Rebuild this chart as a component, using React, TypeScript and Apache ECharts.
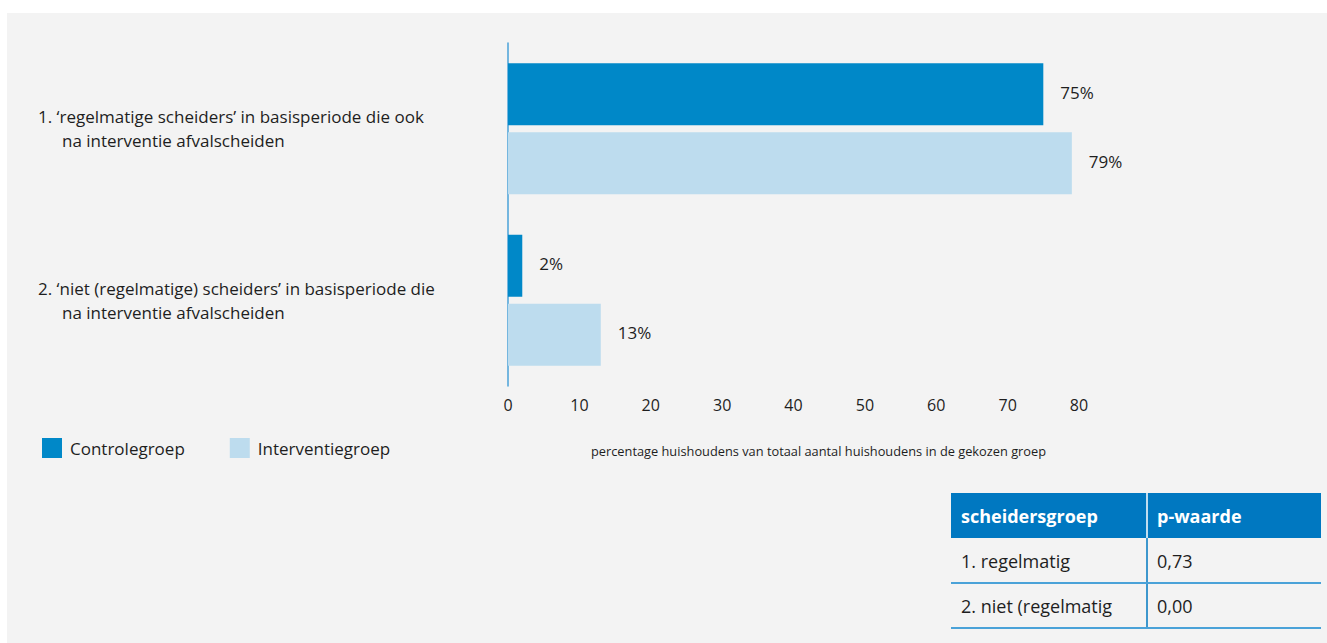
import React, { useEffect, useRef } from "react";
import * as echarts from "echarts";

const categories = [
  "1. ‘regelmatige scheiders’ in basisperiode die ook\nna interventie afvalscheiden",
  "2. ‘niet (regelmatige) scheiders’ in basisperiode die\nna interventie afvalscheiden",
];
const seriesNames = ["Controlegroep", "Interventiegroep"];
const controleValues = [75, 2];
const interventieValues = [79, 13];
const xTicks = [0, 10, 20, 30, 40, 50, 60, 70, 80];
const axisTitle = "percentage huishoudens van totaal aantal huishoudens in de gekozen groep";
const tableHeader = ["scheidersgroep", "p-waarde"];
const tableRows = [
  ["1. regelmatig", "0,73"],
  ["2. niet (regelmatig", "0,00"],
];

const FONT = "Open Sans";
const TEXT = "#1e1e1e";
const DARK = "#0088c8";
const LIGHT = "#bddcee";
const HEAD = "#0078c1";
const LINE = "#4aa2d8";

export default function App() {
  const ref = useRef<HTMLDivElement>(null);
  useEffect(() => {
    if (!ref.current) return;
    const chart = echarts.init(ref.current, null, { renderer: "svg" });

    const tX = 951, tR = 1321, tDiv = 1147, tTop = 493, hH = 45, rH = 45;
    const tableEls: any[] = [];
    tableEls.push({ type: "rect", shape: { x: tX, y: tTop, width: tR - tX, height: hH }, style: { fill: HEAD } });
    tableEls.push({ type: "line", shape: { x1: tDiv, y1: tTop, x2: tDiv, y2: tTop + hH }, style: { stroke: "#ffffff", lineWidth: 1.5 } });
    tableEls.push({ type: "line", shape: { x1: tDiv, y1: tTop + hH, x2: tDiv, y2: tTop + hH + rH * tableRows.length }, style: { stroke: HEAD, lineWidth: 1.5 } });
    const colX = [tX + 10, tDiv + 10];
    tableHeader.forEach((h, i) => {
      tableEls.push({ type: "text", x: colX[i], y: tTop + hH / 2, style: { text: h, fill: "#ffffff", font: `bold 18px "${FONT}"`, verticalAlign: "middle" } });
    });
    tableRows.forEach((row, r) => {
      const yTop = tTop + hH + r * rH;
      row.forEach((cell, i) => {
        tableEls.push({ type: "text", x: colX[i], y: yTop + rH / 2, style: { text: cell, fill: TEXT, font: `18px "${FONT}"`, verticalAlign: "middle" } });
      });
      tableEls.push({ type: "line", shape: { x1: tX, y1: yTop + rH, x2: tR, y2: yTop + rH }, style: { stroke: LINE, lineWidth: 2 } });
    });

    const labelStyle = { show: true, position: "right", distance: 17, formatter: "{c}%", fontSize: 17, color: TEXT, fontFamily: FONT, offset: [0, -2] };

    chart.setOption({
      animation: false,
      backgroundColor: "#ffffff",
      textStyle: { fontFamily: FONT },
      graphic: [
        { type: "rect", z: -10, silent: true, shape: { x: 7, y: 13, width: 1320, height: 630 }, style: { fill: "#f3f3f3" } },
        ...tableEls,
      ],
      legend: {
        left: 37,
        top: 433,
        icon: "rect",
        itemWidth: 20,
        itemHeight: 20,
        itemGap: 45,
        selectedMode: false,
        textStyle: { fontSize: 17, color: TEXT, fontFamily: FONT, padding: [0, 0, 0, 3] },
        data: seriesNames,
      },
      grid: { left: 508, right: 248, top: 43, bottom: 257, containLabel: false },
      xAxis: {
        type: "value",
        min: 0,
        max: 80,
        interval: 10,
        axisLine: { show: false },
        axisTick: { show: false },
        splitLine: { show: false },
        axisLabel: {
          margin: 11,
          fontSize: 16,
          color: TEXT,
          fontFamily: FONT,
          formatter: (v: number) => (xTicks.includes(v) ? String(v) : ""),
        },
        name: axisTitle,
        nameLocation: "middle",
        nameGap: 58,
        nameTextStyle: { fontSize: 12.8, color: TEXT, fontFamily: FONT, padding: [0, 0, 0, 50] },
      },
      yAxis: {
        type: "category",
        inverse: true,
        data: categories,
        axisLine: { show: true, lineStyle: { color: LINE, width: 1.5 } },
        axisTick: { show: false },
        axisLabel: {
          align: "left",
          margin: 470,
          fontSize: 17,
          lineHeight: 24,
          color: TEXT,
          fontFamily: FONT,
          formatter: (v: string) => v.replace("\n", "\n{i| }"),
          rich: { i: { width: 24, fontSize: 17, lineHeight: 24 } },
        },
      },
      series: [
        {
          name: seriesNames[0],
          type: "bar",
          data: controleValues,
          itemStyle: { color: DARK },
          barGap: "11%",
          barCategoryGap: "23.6%",
          label: labelStyle,
        },
        {
          name: seriesNames[1],
          type: "bar",
          data: interventieValues,
          itemStyle: { color: LIGHT },
          barGap: "11%",
          barCategoryGap: "23.6%",
          label: labelStyle,
        },
      ],
    });
    return () => chart.dispose();
  }, []);
  return <div ref={ref} style={{ position: "absolute", left: 0, top: 0, width: 1327, height: 643 }} />;
}
